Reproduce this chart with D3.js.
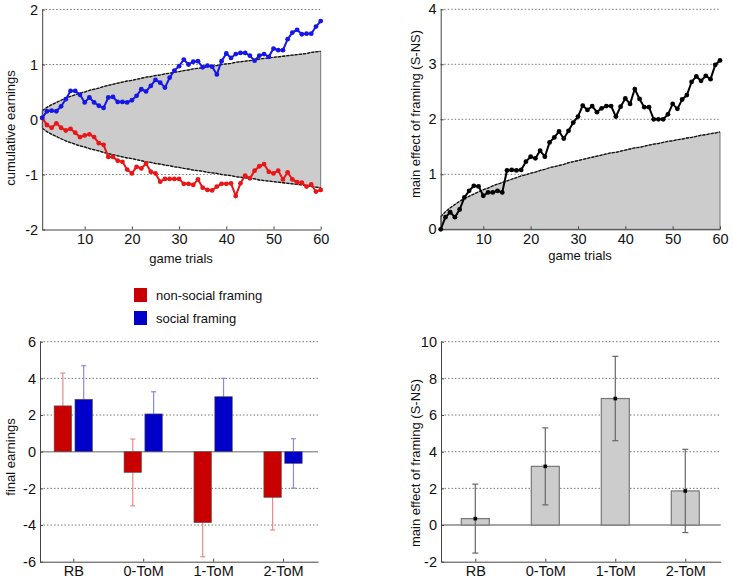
<!DOCTYPE html>
<html><head><meta charset="utf-8">
<script src="https://cdn.jsdelivr.net/npm/d3@7"></script>
<style>
body{margin:0;background:#fff;}
svg{font-family:"Liberation Sans",Arial,sans-serif;}
</style></head><body>
<svg id="chart" width="733" height="582"></svg>
<script>
// ---------------- data ----------------
const trialTicks = [10, 20, 30, 40, 50, 60];
const socialEarnings = [0.03,0.15,0.16,0.15,0.24,0.37,0.52,0.52,0.45,0.31,0.40,0.31,0.25,0.21,0.40,0.41,0.32,0.32,0.31,0.35,
  0.43,0.55,0.51,0.61,0.72,0.67,0.58,0.76,0.89,0.97,1.09,1.00,1.05,1.06,0.95,0.98,0.96,0.82,1.06,1.20,
  1.12,1.19,1.21,1.21,1.16,1.07,1.16,1.19,1.14,1.29,1.26,1.26,1.46,1.58,1.63,1.55,1.56,1.56,1.69,1.79];
const nonSocialEarnings = [0.03,-0.10,-0.15,-0.07,-0.15,-0.20,-0.17,-0.24,-0.32,-0.29,-0.27,-0.32,-0.43,-0.46,-0.68,-0.68,-0.75,-0.77,-0.91,-0.98,
  -0.86,-0.89,-0.80,-0.95,-0.98,-1.13,-1.08,-1.08,-1.08,-1.08,-1.17,-1.17,-1.19,-1.09,-1.24,-1.28,-1.29,-1.22,-1.17,-1.17,
  -1.16,-1.39,-1.16,-1.02,-1.07,-0.93,-0.85,-0.81,-0.95,-0.98,-0.93,-1.09,-0.96,-1.09,-1.14,-1.15,-1.22,-1.18,-1.31,-1.28];
const chanceBand = [0.16,0.22,0.27,0.31,0.35,0.39,0.42,0.45,0.48,0.50,0.53,0.55,0.57,0.60,0.62,0.64,0.66,0.68,0.70,0.71,
  0.73,0.75,0.77,0.78,0.80,0.81,0.83,0.84,0.86,0.87,0.89,0.90,0.92,0.93,0.94,0.96,0.97,0.98,1.00,1.01,
  1.02,1.04,1.05,1.06,1.07,1.08,1.10,1.11,1.12,1.13,1.14,1.15,1.16,1.17,1.18,1.19,1.20,1.22,1.23,1.24];
const framingEffect = [0.00,0.22,0.31,0.22,0.36,0.58,0.70,0.79,0.78,0.61,0.67,0.67,0.70,0.67,1.07,1.08,1.07,1.08,1.23,1.32,
  1.29,1.43,1.32,1.58,1.67,1.78,1.65,1.79,1.94,2.05,2.25,2.17,2.24,2.13,2.20,2.24,2.24,2.05,2.23,2.38,
  2.28,2.55,2.37,2.22,2.22,2.00,2.00,2.00,2.09,2.28,2.19,2.36,2.44,2.68,2.78,2.70,2.79,2.73,2.99,3.07];
const framingBand = [0.23,0.32,0.39,0.45,0.51,0.56,0.60,0.64,0.68,0.72,0.75,0.79,0.82,0.85,0.88,0.91,0.94,0.97,0.99,1.02,
  1.04,1.07,1.09,1.12,1.14,1.16,1.18,1.21,1.23,1.25,1.27,1.29,1.31,1.33,1.35,1.37,1.39,1.40,1.42,1.44,
  1.46,1.48,1.49,1.51,1.53,1.55,1.56,1.58,1.60,1.61,1.63,1.64,1.66,1.67,1.69,1.71,1.72,1.74,1.75,1.77];

const agentTypes = ["RB", "0-ToM", "1-ToM", "2-ToM"];
const finalNonSocial = [2.50, -1.13, -3.87, -2.49];
const finalNonSocialErr = [1.79, 1.82, 1.86, 1.78];
const finalSocial = [2.86, 2.06, 3.00, -0.64];
const finalSocialErr = [1.83, 1.21, 1.00, 1.35];
const framingMain = [0.35, 3.20, 6.90, 1.86];
const framingMainErr = [1.88, 2.10, 2.30, 2.27];
const legendLabels = ["non-social framing", "social framing"];

const yTicksTL = [-2, -1, 0, 1, 2];
const yTicksTR = [0, 1, 2, 3, 4];
const yTicksBL = [-6, -4, -2, 0, 2, 4, 6];
const yTicksBR = [-2, 0, 2, 4, 6, 8, 10];

// ---------------- styles ----------------
const C = {
  redLine: "#e81616", blueLine: "#1616e6",
  redBar: "#c80000", blueBar: "#0000c8",
  redErr: "#e98a8a", blueErr: "#8a8ae0",
  band: "#cccccc", axis: "#444", grid: "#555"
};
const FS = 13, TFS = 14.5;
const svg = d3.select("#chart");

function grid(g, x, y, ticks, skip) {
  const [x0, x1] = x.range();
  g.selectAll(null).data(ticks.filter(t => !skip.includes(t))).join("line")
    .attr("x1", x0).attr("x2", x1)
    .attr("y1", d => y(d)).attr("y2", d => y(d))
    .attr("stroke", C.grid).attr("stroke-width", 0.8)
    .attr("stroke-dasharray", "1.5,2");
}

function axes(g, x, y, xTicks, yTicks, xFmt) {
  const ax = g.append("g").attr("transform", `translate(0,${y.range()[0]})`)
    .call(d3.axisBottom(x).tickValues(xTicks).tickSize(-3).tickSizeOuter(0).tickPadding(4)
      .tickFormat(xFmt || (d => String(d))));
  const ay = g.append("g").attr("transform", `translate(${x.range()[0]},0)`)
    .call(d3.axisLeft(y).tickValues(yTicks).tickSize(-3).tickSizeOuter(0).tickPadding(4)
      .tickFormat(d => String(d)));
  [ax, ay].forEach(a => {
    a.select(".domain").attr("stroke", C.axis).attr("stroke-width", 1);
    a.selectAll(".tick line").attr("stroke", C.axis);
    a.selectAll("text").attr("font-size", TFS).attr("fill", "#111")
      .attr("font-family", "Liberation Sans, Arial, sans-serif");
  });
}

function ylabel(text, cx, cy) {
  svg.append("text").attr("transform", `translate(${cx},${cy}) rotate(-90)`)
    .attr("text-anchor", "middle").attr("dy", "0.35em")
    .attr("font-size", FS).attr("fill", "#111").text(text);
}
function xlabel(text, cx, cy) {
  svg.append("text").attr("x", cx).attr("y", cy).attr("text-anchor", "middle")
    .attr("dy", "0.35em").attr("font-size", FS).attr("fill", "#111").text(text);
}

// ---------------- top-left ----------------
{
  const g = svg.append("g");
  const x = d3.scaleLinear().domain([1, 60]).range([42.2, 320.7]);
  const y = d3.scaleLinear().domain([-2, 2]).range([229.5, 9.5]);
  grid(g, x, y, yTicksTL, [-2]);
  const area = d3.area().x((d, i) => x(i + 1)).y0(d => y(-d)).y1(d => y(d));
  g.append("path").datum(chanceBand).attr("d", area).attr("fill", C.band)
    .attr("stroke", "#777").attr("stroke-width", 1);
  const up = d3.line().x((d, i) => x(i + 1)).y(d => y(d));
  const dn = d3.line().x((d, i) => x(i + 1)).y(d => y(-d));
  g.append("path").datum(chanceBand).attr("d", up).attr("fill", "none")
    .attr("stroke", "#111").attr("stroke-width", 1.3).attr("stroke-dasharray", "3,1.2");
  g.append("path").datum(chanceBand).attr("d", dn).attr("fill", "none")
    .attr("stroke", "#111").attr("stroke-width", 1.3).attr("stroke-dasharray", "3,1.2");
  axes(g, x, y, trialTicks, yTicksTL);
  const line = d3.line().x((d, i) => x(i + 1)).y(d => y(d));
  [[nonSocialEarnings, C.redLine], [socialEarnings, C.blueLine]].forEach(([data, col]) => {
    g.append("path").datum(data).attr("d", line).attr("fill", "none")
      .attr("stroke", col).attr("stroke-width", 2);
    g.selectAll(null).data(data).join("circle")
      .attr("cx", (d, i) => x(i + 1)).attr("cy", d => y(d)).attr("r", 2.4).attr("fill", col);
  });
  ylabel("cumulative earnings", 10, 128);
  xlabel("game trials", 181, 258);
}

// ---------------- top-right ----------------
{
  const g = svg.append("g");
  const x = d3.scaleLinear().domain([1, 60]).range([440.7, 720]);
  const y = d3.scaleLinear().domain([0, 4]).range([229.3, 9.3]);
  grid(g, x, y, yTicksTR, [0]);
  const area = d3.area().x((d, i) => x(i + 1)).y0(y(0)).y1(d => y(d));
  g.append("path").datum(framingBand).attr("d", area).attr("fill", C.band)
    .attr("stroke", "#777").attr("stroke-width", 1);
  const up = d3.line().x((d, i) => x(i + 1)).y(d => y(d));
  g.append("path").datum(framingBand).attr("d", up).attr("fill", "none")
    .attr("stroke", "#111").attr("stroke-width", 1.3).attr("stroke-dasharray", "3,1.2");
  axes(g, x, y, trialTicks, yTicksTR);
  const line = d3.line().x((d, i) => x(i + 1)).y(d => y(d));
  g.append("path").datum(framingEffect).attr("d", line).attr("fill", "none")
    .attr("stroke", "#000").attr("stroke-width", 2);
  g.selectAll(null).data(framingEffect).join("circle")
    .attr("cx", (d, i) => x(i + 1)).attr("cy", d => y(d)).attr("r", 2.4).attr("fill", "#000");
  ylabel("main effect of framing (S-NS)", 415, 114);
  xlabel("game trials", 580, 255);
}

// ---------------- legend ----------------
{
  const cols = [C.redBar, C.blueBar];
  legendLabels.forEach((lab, i) => {
    svg.append("rect").attr("x", 134).attr("y", 288 + i * 23).attr("width", 13).attr("height", 14)
      .attr("fill", cols[i]);
    svg.append("text").attr("x", 156).attr("y", 295 + i * 23).attr("dy", "0.35em")
      .attr("font-size", FS).attr("fill", "#111").text(lab);
  });
}

// ---------------- bottom-left ----------------
{
  const g = svg.append("g");
  const x = d3.scaleLinear().domain([0.524, 4.5]).range([40, 318]);
  const y = d3.scaleLinear().domain([-6, 6]).range([561.7, 341.7]);
  grid(g, x, y, yTicksBL, [-6, 0]);
  const off = 0.149, w = 0.25;
  const groups = [
    [finalNonSocial, finalNonSocialErr, -off, C.redBar, C.redErr],
    [finalSocial, finalSocialErr, off, C.blueBar, C.blueErr]
  ];
  groups.forEach(([vals, errs, o, fill, ecol]) => {
    vals.forEach((v, i) => {
      const cx = x(i + 1 + o);
      const lo = v - errs[i], hi = v + errs[i];
      g.append("line").attr("x1", cx).attr("x2", cx).attr("y1", y(lo)).attr("y2", y(hi))
        .attr("stroke", ecol).attr("stroke-width", 1.2);
      [lo, hi].forEach(e => g.append("line").attr("x1", cx - 2.5).attr("x2", cx + 2.5)
        .attr("y1", y(e)).attr("y2", y(e)).attr("stroke", ecol).attr("stroke-width", 1.2));
    });
  });
  g.append("line").attr("x1", 40).attr("x2", 318).attr("y1", y(0)).attr("y2", y(0))
    .attr("stroke", "#999").attr("stroke-width", 1.5);
  groups.forEach(([vals, errs, o, fill]) => {
    g.selectAll(null).data(vals).join("rect")
      .attr("x", (d, i) => x(i + 1 + o - w / 2))
      .attr("width", x(w) - x(0))
      .attr("y", d => y(Math.max(0, d)))
      .attr("height", d => Math.abs(y(d) - y(0)))
      .attr("fill", fill).attr("stroke", "#555").attr("stroke-width", 0.6);
  });
  axes(g, x, y, [1, 2, 3, 4], yTicksBL, d => agentTypes[d - 1]);
  ylabel("final earnings", 10, 457);
}

// ---------------- bottom-right ----------------
{
  const g = svg.append("g");
  const x = d3.scaleLinear().domain([0.51, 4.506]).range([441, 720.7]);
  const y = d3.scaleLinear().domain([-2, 10]).range([561.7, 341.7]);
  grid(g, x, y, yTicksBR, [-2, 0]);
  g.append("line").attr("x1", 441).attr("x2", 720.7).attr("y1", y(0)).attr("y2", y(0))
    .attr("stroke", "#888").attr("stroke-width", 1.5);
  const w = 0.4;
  g.selectAll(null).data(framingMain).join("rect")
    .attr("x", (d, i) => x(i + 1 - w / 2))
    .attr("width", x(w) - x(0))
    .attr("y", d => y(Math.max(0, d)))
    .attr("height", d => Math.abs(y(d) - y(0)))
    .attr("fill", "#cccccc").attr("stroke", "#777").attr("stroke-width", 1.2);
  framingMain.forEach((v, i) => {
    const cx = x(i + 1);
    const lo = v - framingMainErr[i], hi = v + framingMainErr[i];
    g.append("line").attr("x1", cx).attr("x2", cx).attr("y1", y(lo)).attr("y2", y(hi))
      .attr("stroke", "#666").attr("stroke-width", 1.2);
    [lo, hi].forEach(e => g.append("line").attr("x1", cx - 3).attr("x2", cx + 3)
      .attr("y1", y(e)).attr("y2", y(e)).attr("stroke", "#666").attr("stroke-width", 1.2));
    g.append("rect").attr("x", cx - 1.8).attr("y", y(v) - 1.8).attr("width", 3.6).attr("height", 3.6)
      .attr("fill", "#000");
  });
  axes(g, x, y, [1, 2, 3, 4], yTicksBR, d => agentTypes[d - 1]);
  ylabel("main effect of framing (S-NS)", 415, 463);
}
</script>
</body></html>
